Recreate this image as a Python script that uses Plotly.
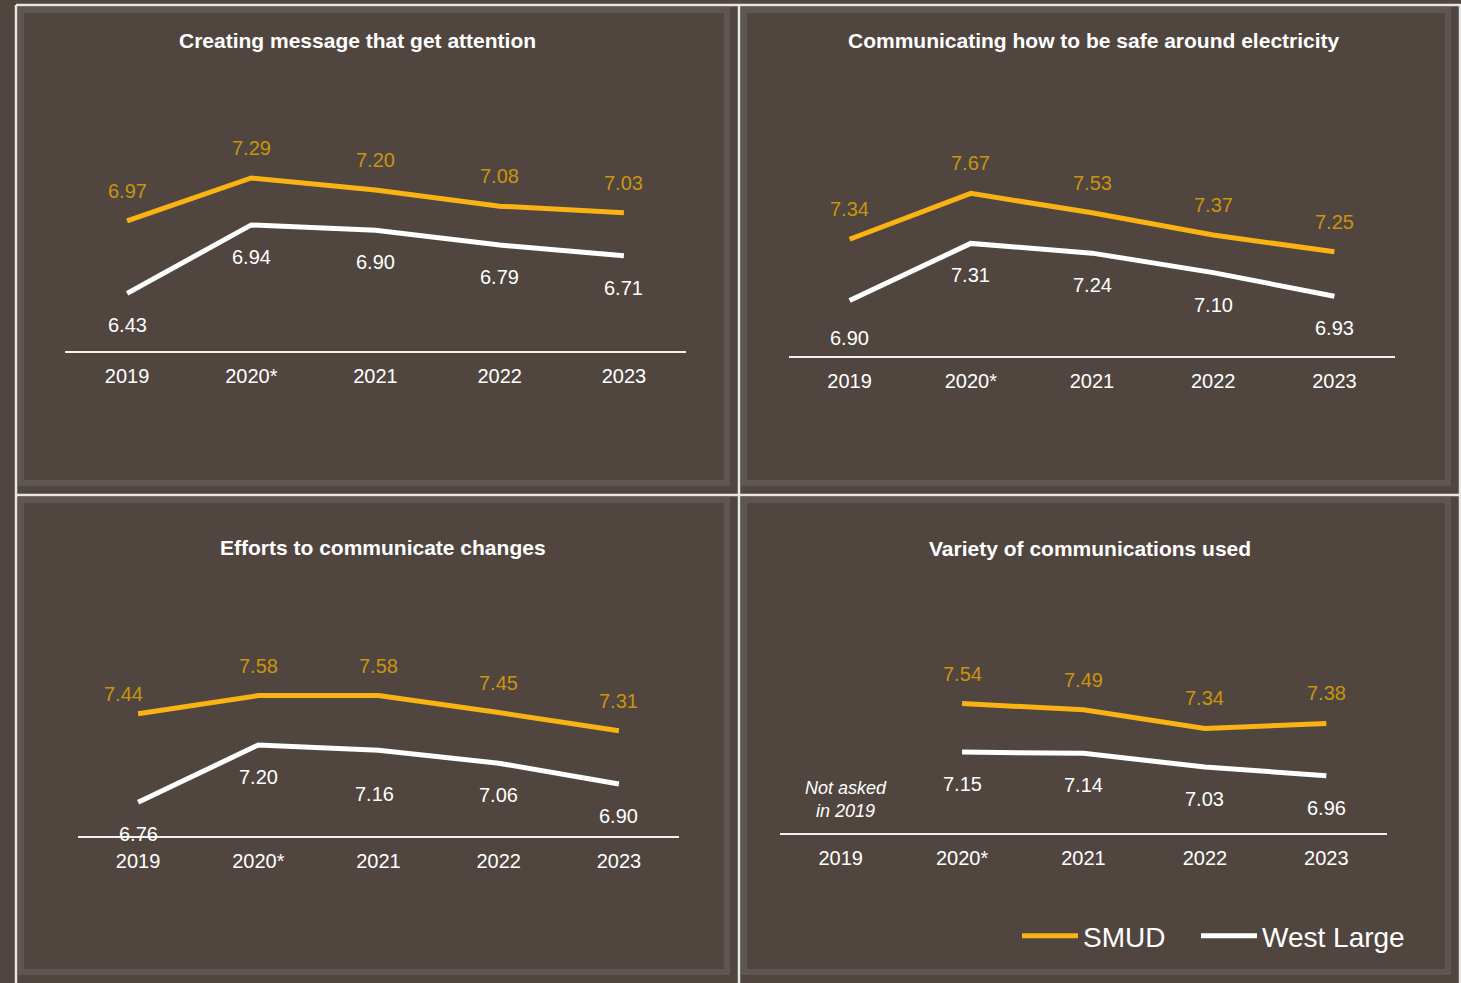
import plotly.graph_objects as go

W, H = 1461, 983

years = ["2019", "2020*", "2021", "2022", "2023"]

titles = [
    "Creating message that get attention",
    "Communicating how to be safe around electricity",
    "Efforts to communicate changes",
    "Variety of communications used",
]

smud_attention = [6.97, 7.29, 7.20, 7.08, 7.03]
west_attention = [6.43, 6.94, 6.90, 6.79, 6.71]

smud_safety = [7.34, 7.67, 7.53, 7.37, 7.25]
west_safety = [6.90, 7.31, 7.24, 7.10, 6.93]

smud_changes = [7.44, 7.58, 7.58, 7.45, 7.31]
west_changes = [6.76, 7.20, 7.16, 7.06, 6.90]

smud_variety = [None, 7.54, 7.49, 7.34, 7.38]
west_variety = [None, 7.15, 7.14, 7.03, 6.96]

series_names = ["SMUD", "West Large"]
note_text = "Not asked<br>in 2019"

# ---- styling ----
BG = "#50463f"
BEVEL = "#5f5651"
GOLD = "#fbb313"
GOLD_TEXT = "#c9940f"
WHITE = "#ffffff"
FONT = "Liberation Sans, Arial, sans-serif"


def px_x(p):
    return p / W


def px_y(p):
    return 1 - p / H


# panel layout in pixels: x-domain (left, right), y-domain (top, bottom), y-range, title pos
panels = [
    dict(x=(65, 686), y=(123, 351), yr=(6.0, 7.7), tx=357, ty=40,
         smud=smud_attention, west=west_attention),
    dict(x=(789, 1395), y=(161.4, 356), yr=(6.5, 7.9), tx=1094, ty=41,
         smud=smud_safety, west=west_safety),
    dict(x=(78, 679), y=(654, 836), yr=(6.5, 7.9), tx=383, ty=547,
         smud=smud_changes, west=west_changes),
    dict(x=(780, 1387), y=(658.7, 833), yr=(6.5, 7.9), tx=1090, ty=548,
         smud=smud_variety, west=west_variety),
]

# label placement tweaks (panel, series, index) -> (xshift, yshift)
label_shift = {
    (1, "west", 0): (0, -38),
    (2, "smud", 0): (-15, 20),
    (2, "west", 2): (-4, -44),
}

fig = go.Figure()
annotations = []
shapes = []

for i, p in enumerate(panels):
    n = "" if i == 0 else str(i + 1)
    xa, ya = "x" + n, "y" + n
    fig.add_trace(go.Scatter(
        x=years, y=p["west"], mode="lines", name=series_names[1],
        line=dict(color=WHITE, width=5), xaxis=xa, yaxis=ya,
        showlegend=(i == 0), legend="legend2", connectgaps=False))
    fig.add_trace(go.Scatter(
        x=years, y=p["smud"], mode="lines", name=series_names[0],
        line=dict(color=GOLD, width=5), xaxis=xa, yaxis=ya,
        showlegend=(i == 0), legend="legend", connectgaps=False))

    fig.update_layout(**{
        ("xaxis" + n): dict(
            domain=[px_x(p["x"][0]), px_x(p["x"][1])],
            anchor=ya, type="category", range=[-0.5, 4.5],
            categoryorder="array", categoryarray=years,
            showline=True, linecolor="#f2f2f2", linewidth=2,
            showgrid=False, zeroline=False, ticks="",
            ticklabelstandoff=6,
            tickfont=dict(size=20, color=WHITE, family=FONT),
            fixedrange=True),
        ("yaxis" + n): dict(
            domain=[px_y(p["y"][1]), px_y(p["y"][0])],
            anchor=xa, range=list(p["yr"]), visible=False,
            showgrid=False, zeroline=False, fixedrange=True),
    })

    for k, (sv, wv) in enumerate(zip(p["smud"], p["west"])):
        if sv is not None:
            xs, ys = label_shift.get((i, "smud", k), (0, 30))
            annotations.append(dict(
                x=k, y=sv, xref=xa, yref=ya, text=f"{sv:.2f}",
                showarrow=False, xshift=xs, yshift=ys,
                font=dict(size=20, color=GOLD_TEXT, family=FONT)))
        if wv is not None:
            xs, ys = label_shift.get((i, "west", k), (0, -32))
            annotations.append(dict(
                x=k, y=wv, xref=xa, yref=ya, text=f"{wv:.2f}",
                showarrow=False, xshift=xs, yshift=ys,
                font=dict(size=20, color=WHITE, family=FONT)))

    annotations.append(dict(
        x=px_x(p["tx"]), y=px_y(p["ty"]), xref="paper", yref="paper",
        text=f"<b>{titles[i]}</b>", showarrow=False,
        xanchor="center", yanchor="middle",
        font=dict(size=21, color=WHITE, family=FONT)))

# note in panel 4
annotations.append(dict(
    x=0, y=6.905, xref="x4", yref="y4", text=f"<i>{note_text}</i>",
    showarrow=False, xshift=5, yshift=-17, align="center",
    font=dict(size=18, color=WHITE, family=FONT)))

# frame: white separators
sep = "#e6e6e6"
for (x0, y0, x1, y1) in [(16, 5, 1461, 5), (16, 5, 16, 983), (739, 5, 739, 983),
                         (16, 495, 1461, 495), (1460, 5, 1460, 983)]:
    shapes.append(dict(type="line", xref="paper", yref="paper",
                       x0=px_x(x0), y0=px_y(y0), x1=px_x(x1), y1=px_y(y1),
                       line=dict(color=sep, width=2.5), layer="below"))

# bevel bands
for (x0, y0, x1, y1) in [(17, 6, 738, 494), (740, 6, 1459, 494),
                         (17, 496, 738, 983), (740, 496, 1459, 983)]:
    shapes.append(dict(type="rect", xref="paper", yref="paper",
                       x0=px_x(x0 + 4), y0=px_y(y0 + 4),
                       x1=px_x(x1 - 11), y1=px_y(y1 - 11),
                       line=dict(color=BEVEL, width=6), layer="below"))

legend_style = dict(orientation="h", xanchor="left", yanchor="middle",
                    font=dict(size=28, color=WHITE, family=FONT),
                    bgcolor="rgba(0,0,0,0)", itemwidth=56)

fig.update_layout(
    width=W, height=H,
    margin=dict(l=0, r=0, t=0, b=0),
    paper_bgcolor=BG, plot_bgcolor="rgba(0,0,0,0)",
    font=dict(family=FONT, color=WHITE),
    annotations=annotations, shapes=shapes,
    showlegend=True,
    legend=dict(x=px_x(1017), y=px_y(936), **legend_style),
    legend2=dict(x=px_x(1196), y=px_y(936), **legend_style),
)

fig.write_html("out.html", config={"displayModeBar": False},
               post_script="document.body.style.margin='0';")
